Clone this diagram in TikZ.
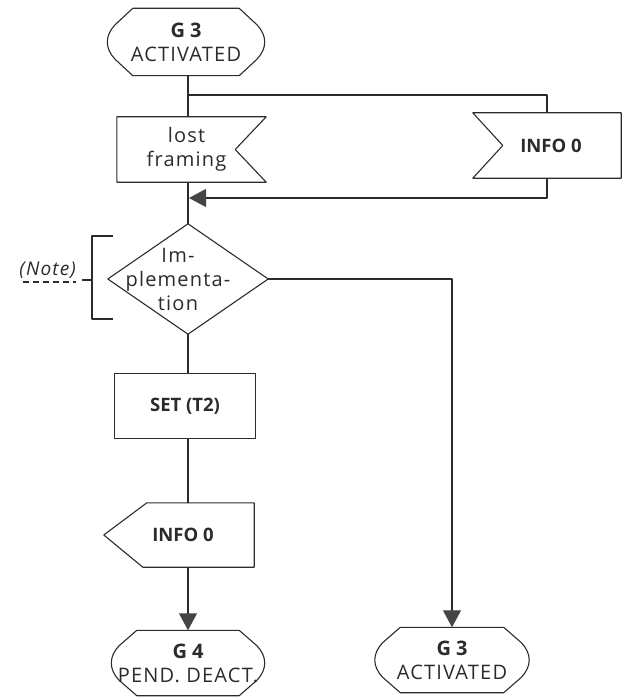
\documentclass[tikz,border=0pt]{standalone}
\usepackage{fontspec}
\setmainfont{Open Sans}
\usetikzlibrary{arrows.meta,calc}
\definecolor{ink}{HTML}{2B2B2B}
\definecolor{tipc}{HTML}{454545}
\newfontfamily\widefont[LetterSpace=6]{Open Sans}
\newcommand\bt[1]{{\normalfont\bfseries #1}}
\tikzset{
  ln/.style={draw=ink, line width=1.1pt, line join=round},
  arr/.style={ln, -{Triangle[width=18pt,length=17pt,fill=tipc,color=tipc]}},
  box/.style={rectangle, inner sep=0pt, align=center, font=\fontsize{20}{24}\widefont, text=ink},
  bbox/.style={box, font=\fontsize{18.5}{24}\selectfont\bfseries},
}
\newcommand\termoutline[1]{%
  \draw[ln] ($(#1.north west)+(27,0)$) -- ($(#1.north east)+(-27,0)$)
    -- ($(#1.east)+(-9,-17)$)
    .. controls ($(#1.east)+(1,-6)$) and ($(#1.east)+(1,6)$) .. ($(#1.east)+(-9,17)$)
    -- ($(#1.south east)+(-27,0)$)
    -- ($(#1.south west)+(27,0)$)
    -- ($(#1.west)+(9,17)$)
    .. controls ($(#1.west)+(-1,6)$) and ($(#1.west)+(-1,-6)$) .. ($(#1.west)+(9,-17)$)
    -- cycle;}
\begin{document}
\begin{tikzpicture}[x=1pt,y=-1pt]
\useasboundingbox (0,0) rectangle (629,698);
% nodes
\node[box, minimum width=160pt, minimum height=67pt] (g3a) at (186,42) {\bt{G\hspace{5pt}3}\\ACTIVATED};
\node[box, minimum width=149pt, minimum height=65pt] (lf) at (191.5,149.5) {\hspace*{-10pt}lost\\\hspace*{-10pt}framing};
\node[bbox, minimum width=148pt, minimum height=65pt] (info0r) at (547,145.5) {\hspace*{8pt}INFO 0};
\node[box, minimum width=160pt, minimum height=110pt] (dec) at (188,279) {\hspace*{-20pt}Im-\\\hspace*{-20pt}plementa-\\\hspace*{-20pt}tion};
\node[bbox, minimum width=140pt, minimum height=64pt] (set) at (185,406) {SET (T2)};
\node[bbox, minimum width=150pt, minimum height=64pt] (info0l) at (179,535) {\hspace*{8pt}INFO 0};
\node[box, minimum width=156pt, minimum height=65pt] (g4) at (188,663) {\bt{G\hspace{5pt}4}\\PEND. DEACT.};
\node[box, minimum width=157pt, minimum height=65pt] (g3b) at (452,660) {\bt{G\hspace{5pt}3}\\ACTIVATED};
\node[box, anchor=east, font=\fontsize{19}{22}\widefont\itshape] (note) at (76,270) {(Note)};
% outlines
\termoutline{g3a}
\termoutline{g4}
\termoutline{g3b}
\draw[ln] (lf.north west) -- (lf.north east) -- ($(lf.east)+(-31,0)$) -- (lf.south east) -- (lf.south west) -- cycle;
\draw[ln] (info0r.north west) -- (info0r.north east) -- (info0r.south east) -- (info0r.south west) -- ($(info0r.west)+(30,0)$) -- cycle;
\draw[ln] (dec.north) -- (dec.east) -- (dec.south) -- (dec.west) -- cycle;
\draw[ln] (set.north west) rectangle (set.south east);
\draw[ln] ($(info0l.north west)+(43,0)$) -- (info0l.north east) -- (info0l.south east) -- ($(info0l.south west)+(39,0)$) -- (info0l.west) -- cycle;
% connectors
\coordinate (br) at (188,95);
\coordinate (mg) at (189,198);
\draw[ln] (g3a.south -| br) -- (lf.north -| br);
\draw[ln] (br) -| (info0r.north);
\draw[arr] (info0r.south) |- (mg);
\draw[ln] (lf.south -| br) -- (dec.north);
\draw[arr] (dec.east) -| (g3b.north);
\draw[ln] (dec.south) -- (dec.south |- set.north);
\draw[ln] (dec.south |- set.south) -- (dec.south |- info0l.north);
\draw[arr] (dec.south |- info0l.south) -- (g4.north);
% note bracket
\coordinate (btop) at (113,236);
\coordinate (bbot) at (113,319);
\draw[ln] (btop) -- (92,236) -- (92,319) -- (bbot);
\draw[ln] (92,280) -- (82,280);
\draw[ln, dashed, dash pattern=on 6pt off 4pt] (23,282) -- (76,282);
\end{tikzpicture}
\end{document}
